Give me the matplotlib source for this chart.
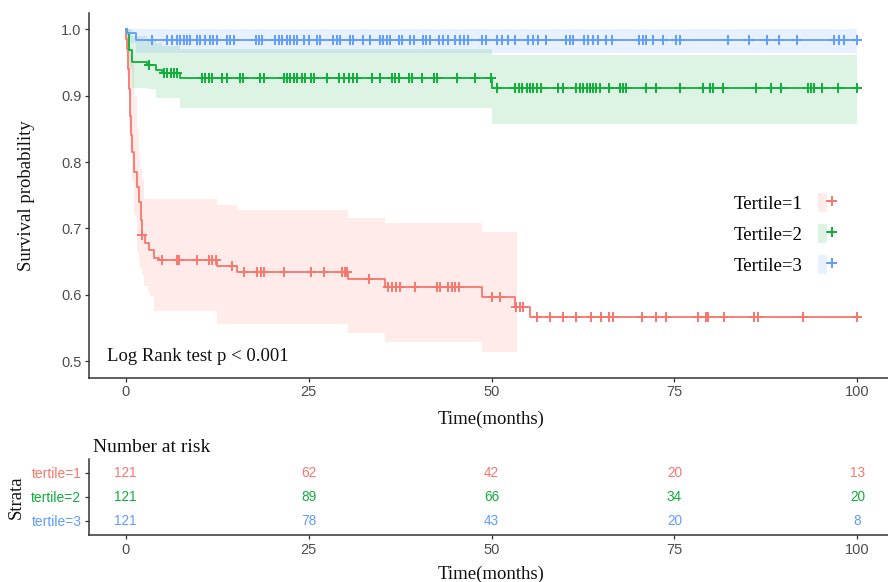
import numpy as np
import matplotlib
matplotlib.use('Agg')
import matplotlib.pyplot as plt
from matplotlib.patches import Patch
from matplotlib.lines import Line2D
from matplotlib.legend_handler import HandlerTuple

# Kaplan-Meier steps (time in months, survival probability)
t1_time = [0, 0.1, 0.2, 0.3, 0.45, 0.6, 0.75, 0.9, 1.2, 1.6, 1.8, 2.05, 2.2, 2.6, 3.2, 3.9, 4.5,
           12.5, 15.2, 30.4, 35.5, 48.7, 53.2, 55.3]
t1_surv = [1.0, 0.985, 0.97, 0.94, 0.91, 0.87, 0.84, 0.815, 0.785, 0.763, 0.74, 0.713, 0.69,
           0.678, 0.668, 0.656, 0.652, 0.643, 0.634, 0.623, 0.611, 0.596, 0.581, 0.566]
t1_band_time = [0, 0.2, 0.45, 0.6, 0.9, 1.1, 1.2, 1.5, 1.6, 1.8, 2.0, 2.2, 2.5, 3.0, 3.4, 3.9,
                12.5, 15.2, 30.4, 35.5, 48.7, 53.5]
t1_upper = [1.0, 1.0, 0.98, 0.97, 0.95, 0.914, 0.90, 0.86, 0.85, 0.814, 0.79, 0.775, 0.745, 0.745,
            0.745, 0.745, 0.735, 0.728, 0.716, 0.708, 0.694, 0.694]
t1_lower = [1.0, 0.93, 0.85, 0.82, 0.77, 0.74, 0.72, 0.68, 0.665, 0.65, 0.64, 0.63, 0.613, 0.604,
            0.598, 0.576, 0.556, 0.556, 0.543, 0.529, 0.514, 0.514]
t1_censor = [2.3, 5.0, 7.0, 7.3, 9.8, 11.4, 11.8, 12.3, 14.6, 16.2, 18.0, 18.5, 18.9, 21.6, 25.3, 27.1,
             29.6, 30.0, 30.3, 33.2, 35.9, 36.4, 36.9, 37.5, 39.6, 42.5, 43.0, 44.1, 44.6, 45.0, 45.5,
             50.0, 51.2, 53.4, 53.9, 54.3, 56.2, 58.0, 59.8, 61.6, 63.6, 65.0, 66.1, 66.6, 70.5, 72.5,
             73.9, 78.2, 79.3, 79.6, 81.8, 85.9, 86.4, 92.5, 100.0]

t2_time = [0, 0.2, 0.45, 0.9, 2.95, 4.1, 5.0, 7.5, 50.0]
t2_surv = [1.0, 0.994, 0.969, 0.951, 0.946, 0.938, 0.934, 0.926, 0.911]
t2_band_time = [0, 0.2, 0.45, 0.9, 2.95, 4.1, 5.0, 7.5, 50.0, 100.0]
t2_upper = [1.0, 1.0, 1.0, 0.99, 0.985, 0.98, 0.975, 0.97, 0.962, 0.962]
t2_lower = [1.0, 0.975, 0.94, 0.912, 0.91, 0.896, 0.896, 0.882, 0.858, 0.858]
t2_censor = [3.2, 5.3, 5.7, 6.2, 6.6, 7.0, 10.5, 10.9, 11.4, 11.8, 13.2, 13.9, 15.7, 16.0, 18.4, 18.9,
             21.6, 22.0, 22.5, 23.0, 23.4, 24.1, 24.5, 25.4, 25.7, 27.5, 29.1, 29.8, 30.5, 31.1, 31.6,
             33.7, 34.8, 36.4, 36.8, 37.3, 38.7, 39.1, 40.5, 42.1, 42.5, 45.3, 47.8, 49.9, 50.7, 53.2,
             53.7, 54.1, 54.8, 55.2, 55.7, 56.2, 56.8, 59.1, 59.8, 61.6, 62.1, 62.5, 63.0, 63.4, 63.9,
             64.3, 64.8, 66.1, 67.5, 68.0, 68.4, 71.1, 72.5, 75.7, 78.9, 79.8, 80.2, 81.6, 86.1, 88.2,
             89.5, 93.2, 93.6, 94.1, 95.2, 97.3, 100.0]

t3_time = [0, 0.2, 1.4]
t3_surv = [1.0, 0.994, 0.984]
t3_band_time = [0, 0.2, 1.4, 100.0]
t3_upper = [1.0, 1.0, 1.0, 1.0]
t3_lower = [1.0, 0.98, 0.965, 0.965]
t3_censor = [3.6, 5.7, 6.4, 7.0, 7.5, 8.0, 8.4, 8.8, 9.8, 10.2, 10.9, 11.6, 12.0, 12.5, 13.9, 14.3,
             14.8, 17.8, 18.2, 18.6, 20.4, 20.9, 21.4, 22.0, 22.5, 23.0, 23.4, 24.4, 25.0, 26.1, 26.6,
             28.4, 28.9, 29.3, 30.7, 31.1, 32.5, 33.4, 34.8, 35.2, 35.7, 36.1, 37.3, 37.8, 38.9, 39.4,
             40.7, 41.1, 41.6, 42.8, 43.4, 44.1, 45.0, 45.7, 46.2, 46.8, 48.7, 49.3, 50.7, 51.4, 52.3,
             53.2, 55.0, 55.7, 56.4, 57.5, 60.2, 60.7, 61.2, 62.7, 63.2, 63.9, 64.6, 65.7, 66.4, 70.2,
             70.7, 71.1, 72.1, 73.4, 75.2, 75.7, 82.3, 85.2, 87.7, 89.3, 91.8, 96.8, 97.5, 98.2, 100.0]

# number at risk table
risk_times = [0, 25, 50, 75, 100]
risk_t1 = [121, 62, 42, 20, 13]
risk_t2 = [121, 89, 66, 34, 20]
risk_t3 = [121, 78, 43, 20, 8]

legend_labels = ['Tertile=1', 'Tertile=2', 'Tertile=3']
strata_labels = ['tertile=1', 'tertile=2', 'tertile=3']
colors = ['#F8766D', '#10AE3A', '#619CFF']

serif = 'Liberation Serif'
sans = 'Liberation Sans'
axis_col = '#333333'
tick_col = '#4D4D4D'

fig = plt.figure(figsize=(8.88, 5.82), dpi=100)
ax = fig.add_axes([89 / 888, 1 - 377.7 / 582, 805 / 888, 365 / 582])
ax_r = fig.add_axes([89 / 888, 1 - 535.4 / 582, 805 / 888, 76.8 / 582])

curves = [
    (t1_time, t1_surv, t1_band_time, t1_upper, t1_lower, t1_censor),
    (t2_time, t2_surv, t2_band_time, t2_upper, t2_lower, t2_censor),
    (t3_time, t3_surv, t3_band_time, t3_upper, t3_lower, t3_censor),
]

# confidence bands first
for (tt, ss, bt, up, lo, cens), col in zip(curves, colors):
    ax.fill_between(bt, lo, up, step='post', color=col, alpha=0.14, lw=0)

for (tt, ss, bt, up, lo, cens), col in zip(curves, colors):
    tt = np.array(tt)
    ss = np.array(ss)
    end = max(cens)
    ax.step(np.append(tt, end), np.append(ss, ss[-1]), where='post', color=col, lw=1.3)
    cens = np.array(cens)
    idx = np.searchsorted(tt, cens, side='right') - 1
    ax.plot(cens, ss[idx], ls='none', marker='+', ms=7, mew=1.4, color=col)

ax.set_xlim(-5, 105)
ax.set_ylim(0.475, 1.025)
ax.set_xticks([0, 25, 50, 75, 100])
ax.set_yticks([0.5, 0.6, 0.7, 0.8, 0.9, 1.0])
ax.set_yticklabels(['0.5', '0.6', '0.7', '0.8', '0.9', '1.0'])
for a in (ax, ax_r):
    for s in ['top', 'right']:
        a.spines[s].set_visible(False)
    for s in ['left', 'bottom']:
        a.spines[s].set_color(axis_col)
        a.spines[s].set_linewidth(1.1)
    a.tick_params(length=3, width=0.9, color=axis_col, labelcolor=tick_col, labelsize=10.5, pad=2.5)
    for lab in a.get_xticklabels() + a.get_yticklabels():
        lab.set_fontfamily(sans)

ax.set_xlabel('Time(months)', fontfamily=serif, fontsize=13.5, labelpad=8, color='#111111')
ax.set_ylabel('Survival probability', fontfamily=serif, fontsize=13.5, labelpad=19, color='#111111')
ax.text(-2.5, 0.507, 'Log Rank test p < 0.001', fontfamily=serif, fontsize=13.5,
        va='center', ha='left', color='#111111')

handles = [(Patch(facecolor=c, alpha=0.14, edgecolor='none'),
            Line2D([], [], color=c, lw=1.3, marker='+', ms=7, mew=1.4)) for c in colors]
ax.legend(handles, legend_labels, handler_map={tuple: HandlerTuple(ndivide=None)},
          markerfirst=False, frameon=False, loc='center',
          bbox_to_anchor=(785 / 888, 1 - 234 / 582), bbox_transform=fig.transFigure,
          prop={'family': serif, 'size': 13.5}, handlelength=1.0, handleheight=1.2,
          labelspacing=0.6, handletextpad=0.8, borderpad=0, borderaxespad=0)

# risk table
risk_rows = [risk_t1, risk_t2, risk_t3]
row_pos = [3, 2, 1]
for counts, y, col in zip(risk_rows, row_pos, colors):
    for x, n in zip(risk_times, counts):
        ax_r.text(x, y, str(n), ha='center', va='center', color=col,
                  fontfamily=sans, fontsize=9.8)
ax_r.set_xlim(-5, 105)
ax_r.set_ylim(0.4, 3.6)
ax_r.set_xticks([0, 25, 50, 75, 100])
ax_r.set_yticks(row_pos)
ax_r.set_yticklabels(strata_labels, fontfamily=sans, fontsize=10)
for lab, col in zip(ax_r.get_yticklabels(), colors):
    lab.set_color(col)
ax_r.set_xlabel('Time(months)', fontfamily=serif, fontsize=13.5, labelpad=6, color='#111111')
ax_r.set_ylabel('Strata', fontfamily=serif, fontsize=13.5, labelpad=5, color='#111111')
title = ax_r.set_title('Number at risk', loc='left', fontfamily=serif, fontsize=14, pad=5, color='#111111')
title.set_x(4 / 805)

fig.savefig('out.png', dpi=100, facecolor='white')
